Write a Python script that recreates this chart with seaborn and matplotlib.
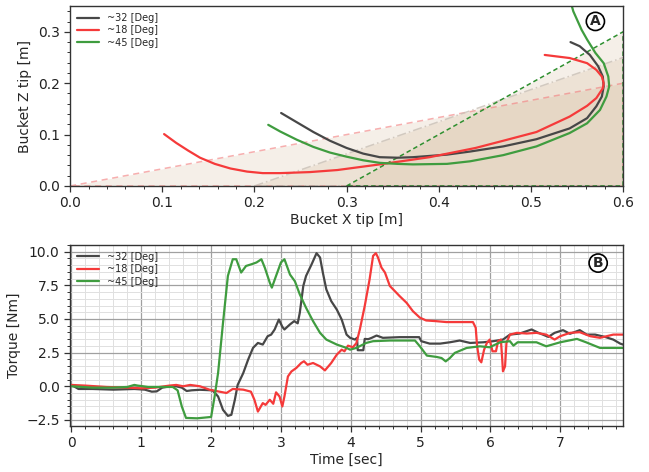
import numpy as np
import pandas as pd
import matplotlib
matplotlib.use("Agg")
import matplotlib.pyplot as plt
from matplotlib.ticker import MultipleLocator
import seaborn as sns

# ---------------- data: panel A (bucket tip trajectories) ----------------
labels = ["~32 [Deg]", "~18 [Deg]", "~45 [Deg]"]

x32 = [0.229, 0.246, 0.264, 0.282, 0.300, 0.318, 0.336, 0.355, 0.372, 0.409, 0.434,
       0.470, 0.506, 0.542, 0.561, 0.571, 0.577, 0.579, 0.578, 0.573, 0.564, 0.553, 0.543]
z32 = [0.142, 0.124, 0.105, 0.088, 0.074, 0.063, 0.056, 0.055, 0.056, 0.061, 0.067,
       0.077, 0.091, 0.112, 0.132, 0.155, 0.174, 0.194, 0.213, 0.233, 0.255, 0.272, 0.280]

x18 = [0.102, 0.115, 0.128, 0.141, 0.157, 0.174, 0.192, 0.209, 0.228, 0.260, 0.290,
       0.336, 0.390, 0.440, 0.470, 0.506, 0.542, 0.561, 0.571, 0.578, 0.579, 0.577,
       0.571, 0.561, 0.542, 0.515]
z18 = [0.101, 0.084, 0.069, 0.055, 0.043, 0.034, 0.028, 0.025, 0.025, 0.027, 0.031,
       0.042, 0.056, 0.074, 0.088, 0.105, 0.135, 0.156, 0.171, 0.190, 0.200, 0.213,
       0.226, 0.239, 0.249, 0.255]

x45 = [0.215, 0.228, 0.246, 0.264, 0.282, 0.300, 0.318, 0.336, 0.355, 0.372, 0.409,
       0.434, 0.470, 0.506, 0.542, 0.561, 0.575, 0.582, 0.585, 0.584, 0.579, 0.570,
       0.561, 0.555, 0.550, 0.546, 0.544]
z45 = [0.119, 0.106, 0.090, 0.076, 0.065, 0.057, 0.050, 0.045, 0.043, 0.042, 0.043,
       0.048, 0.060, 0.077, 0.103, 0.122, 0.148, 0.174, 0.194, 0.213, 0.239, 0.259,
       0.285, 0.304, 0.324, 0.340, 0.353]

# angle reference lines (start x, end x at z=0 .. end z)
wedge_x = {"18": [0.0, 0.6], "32": [0.2, 0.6], "45": [0.3, 0.6]}
wedge_z = {"18": [0.0, 0.2], "32": [0.0, 0.25], "45": [0.0, 0.3]}

# ---------------- data: panel B (torque) ----------------
t32 = [0.0, 0.1, 0.3, 0.6, 0.9, 1.05, 1.15, 1.22, 1.3, 1.36, 1.5, 1.58, 1.65, 1.72, 1.84,
       2.02, 2.1, 2.17, 2.24, 2.29, 2.34, 2.38, 2.46, 2.53, 2.6, 2.67, 2.74, 2.81, 2.86,
       2.91, 2.97, 3.02, 3.05, 3.13, 3.19, 3.24, 3.27, 3.32, 3.36, 3.44, 3.51, 3.56, 3.6,
       3.65, 3.72, 3.8, 3.87, 3.94, 3.99, 4.06, 4.09, 4.10, 4.18, 4.20, 4.25, 4.3, 4.37,
       4.46, 4.7, 4.98, 5.01, 5.13, 5.28, 5.42, 5.56, 5.71, 5.9, 6.04, 6.18, 6.28, 6.42,
       6.59, 6.69, 6.83, 6.92, 7.04, 7.14, 7.28, 7.38, 7.5, 7.64, 7.76, 7.86, 7.9]
T32 = [0.1, -0.2, -0.2, -0.25, -0.2, -0.25, -0.4, -0.38, -0.1, -0.05, 0.0, -0.1, -0.35,
       -0.3, -0.26, -0.3, -0.76, -1.75, -2.2, -2.12, -1.0, 0.1, 0.98, 1.98, 2.85, 3.22,
       3.1, 3.72, 3.84, 4.22, 4.96, 4.42, 4.22, 4.6, 4.84, 4.68, 5.46, 7.45, 8.2, 9.07,
       9.89, 9.57, 8.45, 7.2, 6.33, 5.7, 4.96, 3.84, 3.6, 3.47, 3.6, 2.68, 2.68, 3.52,
       3.5, 3.6, 3.77, 3.6, 3.65, 3.65, 3.35, 3.17, 3.17, 3.27, 3.4, 3.22, 3.27, 3.35,
       3.47, 3.84, 3.92, 4.22, 3.97, 3.67, 3.97, 4.17, 3.9, 4.17, 3.84, 3.84, 3.67, 3.47,
       3.17, 3.1]

t18 = [0.0, 0.2, 0.5, 0.8, 1.0, 1.2, 1.4, 1.5, 1.6, 1.7, 1.84, 1.98, 2.12, 2.22, 2.31,
       2.46, 2.57, 2.62, 2.67, 2.74, 2.78, 2.84, 2.89, 2.93, 2.98, 3.02, 3.05, 3.1, 3.15,
       3.22, 3.29, 3.33, 3.38, 3.46, 3.56, 3.63, 3.72, 3.8, 3.87, 3.91, 3.96, 4.03, 4.08,
       4.13, 4.2, 4.27, 4.32, 4.36, 4.39, 4.44, 4.49, 4.56, 4.63, 4.7, 4.8, 4.89, 4.99,
       5.08, 5.22, 5.37, 5.56, 5.75, 5.79, 5.81, 5.84, 5.87, 5.91, 5.95, 5.99, 6.03, 6.08,
       6.11, 6.15, 6.17, 6.18, 6.21, 6.23, 6.28, 6.38, 6.52, 6.66, 6.8, 6.92, 7.0, 7.14,
       7.28, 7.43, 7.57, 7.76, 7.9]
T18 = [0.1, 0.05, -0.05, -0.1, -0.15, -0.1, 0.05, 0.1, 0.0, 0.1, 0.0, -0.26, -0.4, -0.5,
       -0.2, -0.25, -0.4, -1.0, -1.88, -1.25, -1.38, -1.0, -1.3, -0.45, -0.76, -1.5,
       -0.76, 0.73, 1.1, 1.36, 1.73, 1.86, 1.6, 1.73, 1.48, 1.18, 1.73, 2.35, 2.72, 2.6,
       3.02, 2.9, 3.2, 4.22, 5.96, 7.95, 9.69, 9.89, 9.57, 8.82, 8.45, 7.45, 7.08, 6.7,
       6.2, 5.58, 5.1, 4.89, 4.84, 4.77, 4.77, 4.77, 4.35, 2.97, 1.98, 1.78, 2.72, 3.22,
       3.47, 2.6, 2.6, 3.35, 3.47, 1.98, 1.11, 1.48, 3.22, 3.84, 3.97, 3.92, 3.97, 3.84,
       3.47, 3.72, 3.97, 4.02, 3.72, 3.6, 3.84, 3.84]

t45 = [0.0, 0.3, 0.6, 0.8, 0.9, 0.95, 1.1, 1.3, 1.45, 1.52, 1.58, 1.64, 1.8, 2.0, 2.05,
       2.1, 2.17, 2.24, 2.31, 2.36, 2.43, 2.5, 2.58, 2.65, 2.72, 2.77, 2.84, 2.87, 2.93,
       3.0, 3.05, 3.13, 3.2, 3.27, 3.36, 3.46, 3.56, 3.65, 3.8, 3.94, 3.99, 4.08, 4.22,
       4.32, 4.56, 4.92, 4.99, 5.09, 5.23, 5.3, 5.36, 5.42, 5.49, 5.66, 5.85, 5.99, 6.14,
       6.28, 6.33, 6.39, 6.66, 6.8, 7.0, 7.24, 7.37, 7.57, 7.9]
T45 = [0.0, -0.1, -0.1, -0.05, 0.1, 0.05, -0.05, -0.05, -0.05, -0.3, -1.5, -2.35, -2.38,
       -2.28, -0.76, 1.0, 4.7, 8.2, 9.44, 9.44, 8.45, 8.94, 9.07, 9.2, 9.44, 8.8, 7.7,
       7.33, 8.2, 9.2, 9.44, 8.3, 7.8, 6.83, 5.83, 4.84, 3.97, 3.47, 3.1, 2.85, 2.72,
       2.85, 3.22, 3.35, 3.4, 3.4, 2.97, 2.28, 2.18, 2.1, 1.85, 2.1, 2.48, 2.85, 2.97,
       2.9, 3.27, 3.35, 3.02, 3.27, 3.27, 2.97, 3.27, 3.52, 3.27, 2.85, 2.85]

# ---------------- styling ----------------
sns.set_style("ticks")
plt.rcParams["font.family"] = ["DejaVu Sans"]

c32, c18, c45 = "#474747", "#f53a3a", "#3f9c3f"
lw = 1.6

fig = plt.figure(figsize=(6.49, 4.72), dpi=100)
axA = fig.add_axes([0.108, 0.606, 0.852, 0.381])
axB = fig.add_axes([0.108, 0.0975, 0.852, 0.3835])

# ---- panel A wedges ----
fill_col = "#c8a27a"
styles = {"18": ("#f27a7a", (0, (4, 3)), 0.6),
          "32": ("#c9c0b6", (0, (6, 2, 1, 2)), 0.8),
          "45": ("#2f8f2f", (0, (3, 2)), 1.0)}
for key in ["18", "32", "45"]:
    wx = np.array(wedge_x[key]); wz = np.array(wedge_z[key])
    axA.fill_between(wx, 0, wz, color=fill_col, alpha=0.17, lw=0)
    col, ls, a = styles[key]
    axA.plot([wx[0], wx[1], wx[1], wx[0]], [wz[0], wz[1], 0, 0],
             color=col, ls=ls, lw=1.1, alpha=a)

dfA = pd.concat([
    pd.DataFrame({"x": x32, "z": z32, "s": labels[0]}),
    pd.DataFrame({"x": x18, "z": z18, "s": labels[1]}),
    pd.DataFrame({"x": x45, "z": z45, "s": labels[2]}),
])
sns.lineplot(data=dfA, x="x", y="z", hue="s", sort=False, estimator=None,
             palette=[c32, c18, c45], lw=lw, ax=axA)
axA.set_xlim(0, 0.6)
axA.set_ylim(0, 0.35)
axA.xaxis.set_major_locator(MultipleLocator(0.1))
axA.xaxis.set_minor_locator(MultipleLocator(0.02))
axA.yaxis.set_major_locator(MultipleLocator(0.1))
axA.yaxis.set_minor_locator(MultipleLocator(0.02))
axA.set_xlabel("Bucket X tip [m]", fontsize=10, labelpad=2)
axA.set_ylabel("Bucket Z tip [m]", fontsize=10, labelpad=4)
axA.legend(loc="upper left", frameon=False, fontsize=7, handlelength=2.3,
           borderaxespad=0.3, labelspacing=0.25)
axA.text(0.95, 0.915, "A", transform=axA.transAxes, ha="center", va="center",
         fontsize=10, fontweight="bold",
         bbox=dict(boxstyle="circle,pad=0.15", fc="white", ec="black", lw=1.2))

# ---- panel B ----
dfB = pd.concat([
    pd.DataFrame({"t": t32, "T": T32, "s": labels[0]}),
    pd.DataFrame({"t": t18, "T": T18, "s": labels[1]}),
    pd.DataFrame({"t": t45, "T": T45, "s": labels[2]}),
])
sns.lineplot(data=dfB, x="t", y="T", hue="s", sort=False, estimator=None,
             palette=[c32, c18, c45], lw=lw, ax=axB)
axB.set_xlim(-0.02, 7.9)
axB.set_ylim(-2.95, 10.5)
axB.xaxis.set_major_locator(MultipleLocator(1))
axB.xaxis.set_minor_locator(MultipleLocator(0.2))
axB.yaxis.set_major_locator(MultipleLocator(2.5))
axB.yaxis.set_minor_locator(MultipleLocator(0.5))
axB.grid(which="major", color="#a0a0a0", lw=0.9)
axB.grid(which="minor", color="#e0e0e0", lw=0.7)
axB.set_axisbelow(True)
axB.set_xlabel("Time [sec]", fontsize=10, labelpad=2)
axB.set_ylabel("Torque [Nm]", fontsize=10, labelpad=4)
axB.legend(loc="upper left", frameon=False, fontsize=7, handlelength=2.3,
           borderaxespad=0.3, labelspacing=0.25)
axB.text(0.955, 0.9, "B", transform=axB.transAxes, ha="center", va="center",
         fontsize=10, fontweight="bold",
         bbox=dict(boxstyle="circle,pad=0.15", fc="white", ec="black", lw=1.2))

for ax in (axA, axB):
    for sp in ax.spines.values():
        sp.set_visible(True)
        sp.set_color("#333333")
        sp.set_linewidth(1.0)
    ax.tick_params(which="major", direction="out", length=4, width=0.9,
                   labelsize=10, colors="#333333", labelcolor="#222222")
    ax.tick_params(which="minor", direction="out", length=2.5, width=0.7,
                   colors="#333333")

fig.savefig("out.png", dpi=100)
